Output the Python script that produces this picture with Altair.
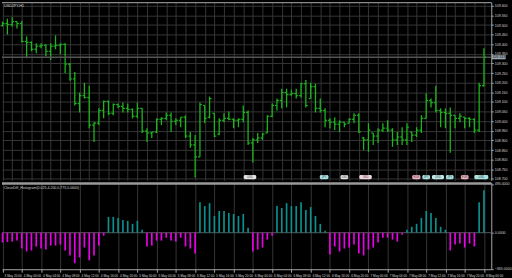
import altair as alt
import pandas as pd

symbol_title = "USDJPY,H1"
indicator_title = "CloseDiff_Histogram(0.025,4,200,0.775,0.0000)"

bar_open = [109.497, 109.508, 109.503, 109.518, 109.508, 109.415, 109.410, 109.374, 109.390, 109.395,
            109.364, 109.390, 109.395, 109.400, 109.297, 109.220, 109.092, 109.133, 109.123, 108.980,
            108.990, 109.056, 109.103, 109.041, 109.087, 109.077, 109.067, 109.062, 109.026, 109.067,
            108.949, 108.939, 108.944, 109.010, 109.015, 109.031, 109.000, 109.005, 109.021, 108.923,
            108.877, 108.815, 109.082, 109.021, 109.041, 108.933, 109.005, 109.015, 109.010, 109.005,
            109.010, 109.046, 108.887, 108.903, 108.913, 108.939, 109.026, 109.082, 109.108, 109.149,
            109.138, 109.144, 109.133, 109.195, 109.118, 109.180, 109.067, 109.056, 109.005, 108.995,
            108.985, 108.995, 108.990, 109.010, 109.031, 108.913, 108.903, 108.939, 108.923, 108.954,
            108.964, 108.954, 108.903, 108.918, 108.903, 108.944, 108.928, 108.954, 109.015, 109.108,
            109.097, 109.056, 109.046, 109.041, 109.031, 109.015, 109.021, 109.015, 109.010, 108.954,
            109.185]
bar_high = [109.518, 109.533, 109.540, 109.518, 109.523, 109.441, 109.415, 109.405, 109.405, 109.400,
            109.405, 109.446, 109.405, 109.405, 109.303, 109.256, 109.149, 109.200, 109.185, 108.995,
            109.067, 109.108, 109.108, 109.092, 109.092, 109.097, 109.092, 109.067, 109.097, 109.067,
            108.964, 108.944, 109.015, 109.021, 109.046, 109.046, 109.015, 109.021, 109.031, 108.944,
            108.928, 109.097, 109.082, 109.128, 109.041, 109.015, 109.041, 109.051, 109.015, 109.015,
            109.082, 109.056, 108.913, 108.939, 108.939, 109.031, 109.092, 109.118, 109.169, 109.169,
            109.164, 109.169, 109.200, 109.215, 109.200, 109.195, 109.118, 109.067, 109.015, 109.021,
            109.005, 108.995, 109.015, 109.041, 109.041, 108.918, 108.990, 108.939, 108.964, 108.990,
            109.005, 108.964, 108.944, 108.969, 108.990, 108.944, 108.969, 109.031, 109.144, 109.118,
            109.185, 109.067, 109.067, 109.072, 109.031, 109.041, 109.021, 109.021, 109.015, 109.200,
            109.380]
bar_low = [109.492, 109.451, 109.492, 109.482, 109.410, 109.328, 109.364, 109.354, 109.380, 109.338,
           109.318, 109.374, 109.349, 109.251, 109.210, 109.082, 109.046, 109.118, 108.964, 108.892,
           108.980, 109.015, 109.031, 109.031, 109.067, 109.046, 109.046, 109.015, 109.015, 108.939,
           108.892, 108.913, 108.939, 108.980, 109.005, 108.944, 108.980, 108.969, 108.913, 108.862,
           108.708, 108.815, 108.990, 109.015, 108.918, 108.928, 108.995, 109.005, 108.964, 108.969,
           108.995, 108.877, 108.785, 108.887, 108.903, 108.939, 109.021, 109.056, 109.067, 109.072,
           109.133, 109.118, 109.123, 109.072, 109.118, 109.046, 109.046, 108.969, 108.964, 108.954,
           108.944, 108.969, 108.990, 108.990, 108.939, 108.851, 108.841, 108.877, 108.887, 108.944,
           108.944, 108.867, 108.877, 108.877, 108.877, 108.892, 108.918, 108.939, 109.015, 109.072,
           109.046, 108.969, 108.964, 108.836, 108.964, 108.995, 108.964, 108.969, 108.939, 108.944,
           109.180]
bar_close = [109.508, 109.503, 109.518, 109.508, 109.415, 109.410, 109.374, 109.390, 109.395, 109.364,
             109.390, 109.395, 109.400, 109.297, 109.220, 109.092, 109.133, 109.123, 108.980, 108.990,
             109.056, 109.103, 109.041, 109.087, 109.077, 109.067, 109.062, 109.026, 109.067, 108.949,
             108.939, 108.944, 109.010, 109.015, 109.031, 109.000, 109.005, 109.021, 108.923, 108.877,
             108.815, 109.087, 109.015, 109.118, 108.923, 109.005, 109.015, 109.010, 109.005, 109.010,
             109.046, 108.887, 108.903, 108.913, 108.933, 109.026, 109.082, 109.108, 109.149, 109.138,
             109.144, 109.133, 109.195, 109.082, 109.180, 109.067, 109.056, 109.005, 108.995, 108.985,
             108.995, 108.985, 109.010, 109.031, 108.944, 108.903, 108.954, 108.923, 108.954, 108.964,
             108.954, 108.903, 108.918, 108.903, 108.969, 108.928, 108.954, 109.015, 109.108, 109.097,
             109.056, 109.046, 109.041, 109.031, 109.015, 109.026, 109.015, 109.010, 108.954, 109.185,
             109.333]

hist_values = [-100, -93, -90, -80, -160, -190, -180, -140, -160, -170,
               -130, -130, -120, -180, -230, -310, -250, -150, -280, -230,
               -130, -30, 160, 160, 150, 130, 120, 90, 120, 30,
               -140, -130, -80, -80, -50, -80, -90, -50, -140, -160,
               -210, 310, 270, 300, 170, 220, 220, 200, 190, 170,
               190, 50, -190, -170, -150, -70, -30, 270, 250, 300,
               270, 270, 310, 230, 260, 170, 90, 20, -220, -140,
               -190, -160, -150, -120, -210, -230, -170, -150, -100, -50,
               -50, -70, -90, -20, 30, 60, 90, 150, 220, 200,
               150, 60, 30, -180, -120, -110, -150, -110, -140, 310,
               430]

price_ticks = [109.60, 109.55, 109.50, 109.45, 109.40, 109.35, 109.30, 109.25, 109.20, 109.15,
               109.10, 109.05, 109.00, 108.95, 108.90, 108.85, 108.80, 108.75, 108.70]
hist_ticks = [495, 0, -365]

time_labels = ["3 May 20:00", "4 May 00:00", "4 May 04:00", "4 May 08:00", "4 May 12:00",
               "4 May 16:00", "4 May 20:00", "5 May 00:00", "5 May 04:00", "5 May 08:00",
               "5 May 12:00", "5 May 16:00", "5 May 20:00", "6 May 00:00", "6 May 04:00",
               "6 May 08:00", "6 May 12:00", "6 May 16:00", "6 May 20:00", "7 May 00:00",
               "7 May 04:00", "7 May 08:00", "7 May 12:00", "7 May 16:00", "7 May 20:00",
               "8 May 00:00"]
time_label_bars = list(range(0, 101, 4))
grid_bars = list(range(0, 102, 2))

event_start = [50.1, 65.9, 70.2, 74.1, 85.1, 87.2, 89.2, 92.1, 95.2, 98.0]
event_end = [52.7, 67.7, 71.8, 76.7, 86.8, 88.8, 91.7, 93.7, 96.8, 100.9]
event_text = ["USD", "JPY", "USD", "USD", "EUR", "JPY", "USD", "JPY", "EUR", "USD"]
event_fill = ["#e4e4e4", "#a9e3e3", "#e4e4e4", "#efd6dc", "#f2b3c2", "#a9e3e3", "#bfe9e9",
              "#a9e3e3", "#f2b3c2", "#a9e3e3"]

GREEN = "#1db51d"
TEAL = "#0b8f8f"
MAGENTA = "#ea00ea"
GRID = "#363636"
AXIS = "#a8a8a8"
LABEL = "#d4d4d4"
FONT = "Liberation Sans Narrow, Liberation Sans, DejaVu Sans"

n = len(bar_close)
df = pd.DataFrame({"i": list(range(n)), "open": bar_open, "high": bar_high,
                   "low": bar_low, "close": bar_close, "v": hist_values})

x_scale = alt.Scale(domain=[-0.123, 101.52], nice=False, zero=False)
y_scale = alt.Scale(domain=[108.6923, 109.6205], nice=False, zero=False)
h_scale = alt.Scale(domain=[-370, 510], nice=False, zero=False)

top_x_axis = alt.Axis(values=grid_bars, labels=False, ticks=False, domain=False, title=None,
                      grid=True, gridColor=GRID, gridWidth=1)
top_y_axis = alt.Axis(orient="right", values=price_ticks, format=".3f", title=None,
                      grid=True, gridColor=GRID, gridWidth=1, labelFontSize=3.6, labelFont=FONT,
                      labelColor=LABEL, labelPadding=1, tickSize=2, tickColor=AXIS,
                      domainColor=AXIS, domainWidth=1, labelOverlap=False, labelBound=False,
                      labelFlush=False)


def tx(field):
    return alt.X(field, type="quantitative", scale=x_scale, axis=top_x_axis)


def ty(field):
    return alt.Y(field, type="quantitative", scale=y_scale, axis=top_y_axis)


base = alt.Chart(df)

wick = base.mark_rule(color=GREEN, strokeWidth=1.3).encode(x=tx("i"), y=ty("low"), y2="high:Q")
open_tick = base.transform_calculate(il="datum.i - 0.4").mark_rule(color=GREEN, strokeWidth=1.2).encode(
    x=tx("il"), x2="i:Q", y=ty("open"))
close_tick = base.transform_calculate(ir="datum.i + 0.4").mark_rule(color=GREEN, strokeWidth=1.2).encode(
    x=tx("i"), x2="ir:Q", y=ty("close"))

bid_df = pd.DataFrame({"bid": [bar_close[-1]], "x1": [101.62], "x2": [104.5],
                       "lo": [bar_close[-1] - 0.011], "hi": [bar_close[-1] + 0.011],
                       "xt": [101.75], "txt": [f"{bar_close[-1]:.3f}"]})
bid_line = alt.Chart(bid_df).mark_rule(color="#555555", strokeWidth=1.6).encode(y=ty("bid"))
bid_box = alt.Chart(bid_df).mark_rect(color="#9aa6b0").encode(
    x=tx("x1"), x2="x2:Q", y=ty("lo"), y2="hi:Q")
bid_text = alt.Chart(bid_df).mark_text(align="left", baseline="middle", fontSize=3.6, font=FONT,
                                       color="#101010").encode(x=tx("xt"), y=ty("bid"), text="txt:N")

ev_df = pd.DataFrame({"s": event_start, "e": event_end, "t": event_text, "f": event_fill})
ev_df["m"] = (ev_df["s"] + ev_df["e"]) / 2
ev_box = alt.Chart(ev_df).mark_rect(cornerRadius=1.5).encode(
    x=tx("s"), x2="e:Q", y=alt.value(175.5), y2=alt.value(179.8),
    fill=alt.Fill("f:N", scale=None))
ev_text = alt.Chart(ev_df).mark_text(fontSize=2.8, font=FONT, color="#404040", baseline="middle").encode(
    x=tx("m"), y=alt.value(177.7), text="t:N")

title_df = pd.DataFrame({"t": [symbol_title]})
top_title = alt.Chart(title_df).mark_text(align="left", baseline="top", fontSize=3.8, font=FONT,
                                          color=LABEL).encode(x=alt.value(2), y=alt.value(2), text="t:N")
top_border = alt.Chart(title_df).mark_rule(color="#8a8a8a", strokeWidth=1.5).encode(y=alt.value(0.75))

top = alt.layer(wick, bid_line, open_tick, close_tick, bid_box, bid_text, ev_box, ev_text,
                top_title, top_border).properties(width=496, height=181)

# lower panel
label_expr = "[" + ",".join(f"'{t}'" for t in time_labels) + "][round(datum.value / 4)]"
bot_x_axis = alt.Axis(values=time_label_bars, labelExpr=label_expr, title=None, grid=True,
                      gridColor=GRID, gridWidth=1, labelFontSize=3.2, labelFont=FONT,
                      labelColor=LABEL, labelAlign="left", labelBaseline="top", labelPadding=1.5,
                      labelOffset=1.5, tickSize=3, tickColor=AXIS, domainColor=AXIS, labelOverlap=False,
                      labelBound=False, labelFlush=False)
bot_y_axis = alt.Axis(orient="right", values=hist_ticks, format=".4f", title=None, grid=False,
                      labelFontSize=3.6, labelFont=FONT, labelColor=LABEL, labelPadding=1,
                      tickSize=2, tickColor=AXIS, domainColor=AXIS, labelOverlap=False,
                      labelBound=False, labelFlush=False)

hist = base.mark_rule(strokeWidth=1.7).encode(
    x=alt.X("i:Q", scale=x_scale, axis=bot_x_axis),
    y=alt.Y("v:Q", scale=h_scale, axis=bot_y_axis),
    y2=alt.datum(0),
    color=alt.condition("datum.v > 0", alt.value(TEAL), alt.value(MAGENTA)),
)
zero_df = pd.DataFrame({"z": [0], "t": [indicator_title]})
zero_line = alt.Chart(zero_df).mark_rule(color="#5a5a5a", strokeWidth=1).encode(
    y=alt.Y("z:Q", scale=h_scale, axis=bot_y_axis))
separator = alt.Chart(zero_df).mark_rule(color="#9a9a9a", strokeWidth=2.5).encode(y=alt.value(1))
bot_title = alt.Chart(zero_df).mark_text(align="left", baseline="top", fontSize=3.6, font=FONT,
                                         color=LABEL).encode(x=alt.value(2), y=alt.value(4), text="t:N")

bottom = alt.layer(zero_line, hist, separator, bot_title).properties(width=496, height=88)

chart = alt.vconcat(top, bottom, spacing=0).properties(
    background="black", padding=0
).configure_view(stroke=None).configure_concat(spacing=0)

chart.save("out.html", embed_options={"renderer": "svg", "actions": False})
